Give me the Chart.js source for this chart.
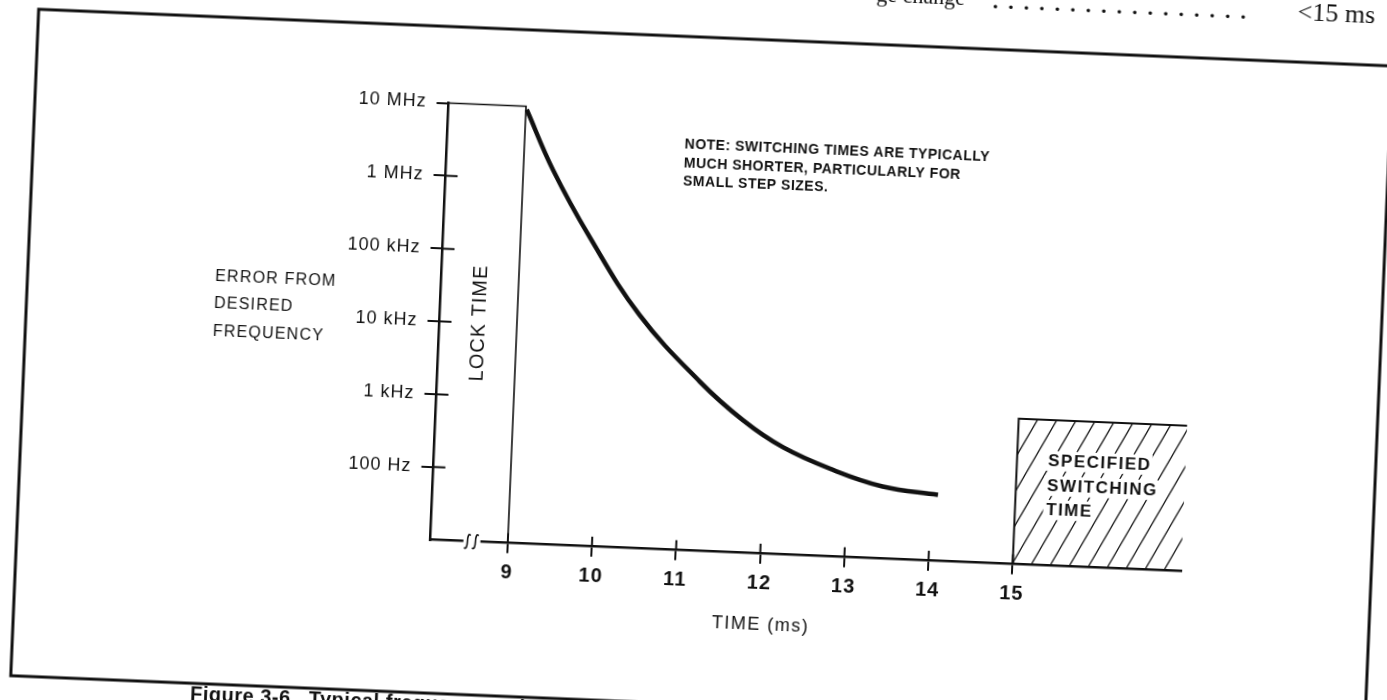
<!DOCTYPE html>
<html>
<head>
<meta charset="utf-8">
<script src="https://cdn.jsdelivr.net/npm/chart.js@4/dist/chart.umd.min.js"></script>
<style>
  html, body { margin: 0; padding: 0; background: #fff; overflow: hidden; width: 1387px; height: 700px; }
  #sheet { position: absolute; left: 0; top: -50px; width: 1387px; height: 800px;
           transform: rotate(2.4deg); transform-origin: 693.5px 400px; }
</style>
</head>
<body>
<div id="sheet"><canvas id="switch-chart" width="1387" height="800"></canvas></div>
<script>
// data (time in ms, error in Hz)
const curveTime = [9.01, 9.35, 9.82, 10.45, 11.2, 11.73, 12.22, 12.82, 13.42, 14.08];
const curveError = [9.0e6, 1.4e6, 1.75e5, 1.6e4, 2100, 660, 295, 155, 98, 81];
const lockTime = [8.08, 9, 9];
const lockError = [1e7, 1e7, 10];
const specTime = [15, 15, 17];
const specError = [10, 1000, 1000];
const xTicks = [9, 10, 11, 12, 13, 14, 15];
const xTickLabels = ["9", "10", "11", "12", "13", "14", "15"];
const yTicks = [100, 1e3, 1e4, 1e5, 1e6, 1e7];
const yTickLabels = ["100 Hz", "1 kHz", "10 kHz", "100 kHz", "1 MHz", "10 MHz"];

const ink = "#111";
const sans = "'Liberation Sans', Arial, sans-serif";
const serif = "'Liberation Serif', 'Times New Roman', serif";

const points = (xs, ys) => xs.map((x, i) => ({ x: x, y: ys[i] }));

function text(ctx, str, x, y, font, align, spacing) {
    ctx.font = font;
    ctx.textAlign = align || "left";
    ctx.textBaseline = "middle";
    ctx.letterSpacing = spacing || "0px";
    ctx.fillText(str, x, y);
}

function boxedText(ctx, str, x, y, font, spacing) {
    ctx.font = font;
    ctx.letterSpacing = spacing;
    const w = ctx.measureText(str).width;
    ctx.fillStyle = "#fff";
    ctx.fillRect(x - 3, y - 10, w + 4, 20);
    ctx.fillStyle = ink;
    text(ctx, str, x, y, font, "left", spacing);
}

const paper = {
    id: "paper",
    beforeDraw(chart) {
        chart.ctx.letterSpacing = "1px";
    },
    afterDraw(chart) {
        const { ctx, chartArea: a, scales: { x, y } } = chart;
        ctx.save();
        ctx.strokeStyle = ink;
        ctx.fillStyle = ink;

        // outer frame of the figure
        ctx.lineWidth = 3;
        ctx.strokeRect(25, 87, 1355, 667);

        // inner half of the crossing tick marks
        ctx.lineWidth = 2;
        ctx.beginPath();
        yTicks.slice(0, -1).forEach((v) => {
            const py = y.getPixelForValue(v);
            ctx.moveTo(a.left, py);
            ctx.lineTo(a.left + 12, py);
        });
        xTicks.forEach((v) => {
            const px = x.getPixelForValue(v);
            ctx.moveTo(px, a.bottom);
            ctx.lineTo(px, a.bottom - 10);
        });
        ctx.stroke();

        // axis break
        const bx = x.getPixelForValue(8.58);
        const by = a.bottom;
        ctx.fillStyle = "#fff";
        ctx.fillRect(bx - 9, by - 3, 17, 6);
        ctx.fillStyle = ink;
        ctx.lineWidth = 1.6;
        [-5, 3].forEach((dx) => {
            const cx = bx + dx;
            ctx.beginPath();
            ctx.moveTo(cx - 3, by + 6);
            ctx.bezierCurveTo(cx - 1, by + 9, cx, by + 4, cx, by);
            ctx.bezierCurveTo(cx, by - 4, cx + 1, by - 9, cx + 3, by - 6);
            ctx.stroke();
        });

        // hatched "specified switching time" block
        const hx0 = x.getPixelForValue(15);
        const hx1 = x.getPixelForValue(17);
        const hy0 = y.getPixelForValue(1000);
        const hy1 = a.bottom;
        const run = (hy1 - hy0) / 1.9;
        ctx.save();
        ctx.beginPath();
        ctx.rect(hx0, hy0, hx1 - hx0, hy1 - hy0);
        ctx.clip();
        ctx.lineWidth = 1.3;
        ctx.beginPath();
        for (let sx = hx0 - run; sx < hx1 + 5; sx += 19) {
            ctx.moveTo(sx, hy1);
            ctx.lineTo(sx + run, hy0);
        }
        ctx.stroke();
        ctx.restore();

        const sx = x.getPixelForValue(15.37);
        const p100 = y.getPixelForValue(100);
        const hatchFont = "bold 17px " + sans;
        boxedText(ctx, "SPECIFIED", sx, p100 - 32, hatchFont, "1.5px");
        boxedText(ctx, "SWITCHING", sx, p100 - 7, hatchFont, "1.5px");
        boxedText(ctx, "TIME", sx, p100 + 17, hatchFont, "1.5px");

        // y axis caption
        const ex = a.left - 226;
        const p10k = y.getPixelForValue(1e4);
        text(ctx, "ERROR FROM", ex, p10k - 36, "16px " + sans, "left", "1.2px");
        text(ctx, "DESIRED", ex, p10k - 9, "16px " + sans, "left", "1.2px");
        text(ctx, "FREQUENCY", ex, p10k + 19, "16px " + sans, "left", "1.2px");

        // lock time label
        ctx.save();
        ctx.translate(x.getPixelForValue(8.56), p10k);
        ctx.rotate(-Math.PI / 2);
        text(ctx, "LOCK TIME", 0, 0, "20px " + sans, "center", "1px");
        ctx.restore();

        // note
        const nx = x.getPixelForValue(10.9);
        const noteFont = "bold 14px " + sans;
        text(ctx, "NOTE: SWITCHING TIMES ARE TYPICALLY", nx, a.top + 32, noteFont, "left", "0.5px");
        text(ctx, "MUCH SHORTER, PARTICULARLY FOR", nx, a.top + 50.5, noteFont, "left", "0.5px");
        text(ctx, "SMALL STEP SIZES.", nx, a.top + 69, noteFont, "left", "0.5px");

        // x axis title
        text(ctx, "TIME (ms)", x.getPixelForValue(12.04), a.bottom + 71, "18px " + sans, "center", "1.5px");

        // spec line above the frame and the caption below it
        text(ctx, "ge change", 950, 38, "22px " + serif, "right", "0px");
        text(ctx, ".................", 978, 40, "bold 22px " + serif, "left", "10px");
        text(ctx, "<15 ms", 1283, 38, "26px " + serif, "left", "0px");
        text(ctx, "Figure 3-6.  Typical frequency switching time.", 205, 765, "bold 20px " + sans, "left", "0.5px");

        ctx.restore();
    },
};

new Chart(document.querySelector("#switch-chart"), {
    type: "line",
    data: {
        datasets: [
            {
                data: points(curveTime, curveError),
                borderColor: ink,
                borderWidth: 4.5,
                pointRadius: 0,
                tension: 0.4,
                clip: false,
            },
            {
                data: points(lockTime, lockError),
                borderColor: ink,
                borderWidth: 1.6,
                pointRadius: 0,
                tension: 0,
                clip: false,
            },
            {
                data: points(specTime, specError),
                borderColor: ink,
                borderWidth: 2,
                pointRadius: 0,
                tension: 0,
                clip: false,
            },
        ],
    },
    options: {
        responsive: false,
        animation: false,
        devicePixelRatio: 1,
        layout: {
            padding: { left: 288.5, right: 197.2, top: 163.5, bottom: 139.3 },
        },
        plugins: {
            legend: { display: false },
            tooltip: { enabled: false },
        },
        scales: {
            x: {
                type: "linear",
                min: 8.08,
                max: 17,
                afterBuildTicks: (scale) => {
                    scale.ticks = xTicks.map((v) => ({ value: v }));
                },
                afterFit: (scale) => {
                    scale.height = 60;
                },
                grid: { drawOnChartArea: false, tickLength: 10, color: ink, lineWidth: 2 },
                border: { color: ink, width: 2.5 },
                ticks: {
                    autoSkip: false,
                    maxRotation: 0,
                    padding: 8,
                    color: ink,
                    font: { family: sans, size: 20, weight: "bold" },
                    callback: (value, index) => xTickLabels[index],
                },
            },
            y: {
                type: "logarithmic",
                min: 10,
                max: 1e7,
                afterBuildTicks: (scale) => {
                    scale.ticks = yTicks.map((v) => ({ value: v }));
                },
                afterFit: (scale) => {
                    scale.width = 150;
                },
                grid: { drawOnChartArea: false, tickLength: 12, color: ink, lineWidth: 2 },
                border: { color: ink, width: 2.5 },
                ticks: {
                    autoSkip: false,
                    padding: 10,
                    color: ink,
                    font: { family: sans, size: 18 },
                    callback: (value, index) => yTickLabels[index],
                },
            },
        },
    },
    plugins: [paper],
});
</script>
</body>
</html>
